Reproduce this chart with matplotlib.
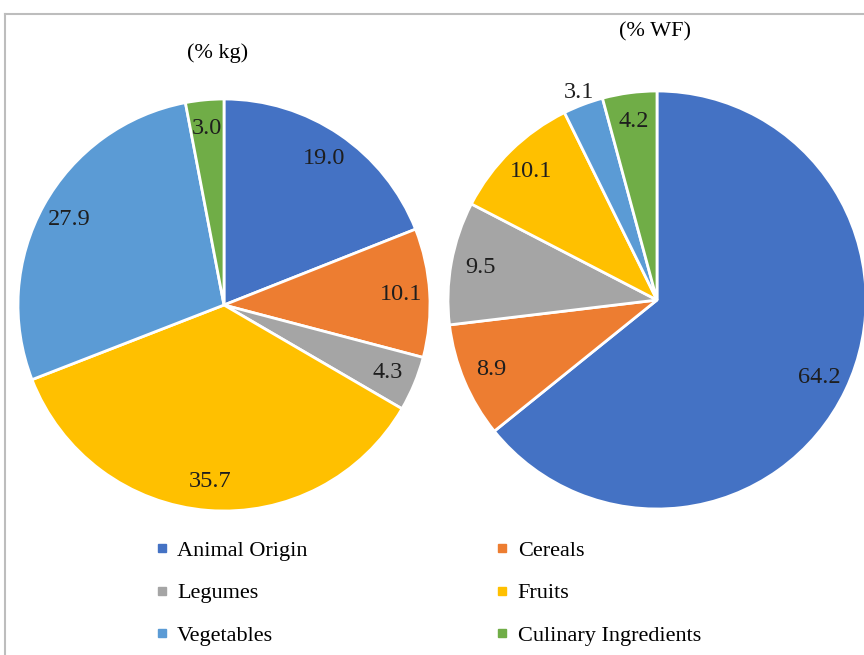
import matplotlib
matplotlib.use("Agg")
import matplotlib.pyplot as plt
from matplotlib.lines import Line2D

plt.rcParams['font.family'] = ['Liberation Serif', 'DejaVu Serif']

categories = ['Animal Origin', 'Cereals', 'Legumes', 'Fruits',
              'Vegetables', 'Culinary Ingredients']
colors = ['#4472C4', '#ED7D31', '#A5A5A5', '#FFC000', '#5B9BD5', '#70AD47']

share_kg = [19.0, 10.1, 4.3, 35.7, 27.9, 3.0]
share_wf = [64.2, 8.9, 9.5, 10.1, 3.1, 4.2]

W, H = 864, 655
fig = plt.figure(figsize=(W / 100, H / 100), dpi=100)


def px_axes(cx, cy, r):
    # axes box (figure fraction) for a pie of radius r centred at pixel (cx, cy)
    return [(cx - r) / W, (H - cy - r) / H, 2 * r / W, 2 * r / H]


def draw_pie(ax, values, pctdist):
    wedges, texts, autotexts = ax.pie(
        values, colors=colors, startangle=90, counterclock=False,
        autopct=lambda p: f'{p:.1f}', pctdistance=pctdist,
        wedgeprops=dict(edgecolor='white', linewidth=2),
        textprops=dict(fontsize=17.5, color='#1e1e1e'))
    ax.set_xlim(-1, 1)
    ax.set_ylim(-1, 1)
    ax.set_aspect('equal')
    return wedges, autotexts


ax1 = fig.add_axes(px_axes(224, 305, 206))
draw_pie(ax1, share_kg, 0.86)

ax2 = fig.add_axes(px_axes(657, 300, 209))
_, auto2 = draw_pie(ax2, share_wf, 0.86)
# the small vegetables slice gets its value just outside the rim
x, y = auto2[4].get_position()
auto2[4].set_position((x / 0.86 * 1.06, y / 0.86 * 1.06))

fig.text(218 / W, 1 - 53 / H, '(% kg)', ha='center', va='center', fontsize=16)
fig.text(655 / W, 1 - 32 / H, '(% WF)', ha='center', va='center', fontsize=16)

# legend laid out row by row: two columns, three rows
order = [0, 2, 4, 1, 3, 5]
handles = [Line2D([], [], marker='s', linestyle='none', markersize=6,
                  color=colors[i]) for i in order]
labels = [categories[i] for i in order]
fig.legend(handles, labels, ncol=2, frameon=False, fontsize=16,
           loc='upper left', bbox_to_anchor=(155 / W, 1 - 540 / H),
           handlelength=0.6, handletextpad=0.4, columnspacing=8.45,
           labelspacing=1.0, borderaxespad=0, borderpad=0)

# outer frame, only top and left edges fall inside the image
frame_color = '#BDBDBD'
fig.add_artist(Line2D([5 / W, 1.0], [1 - 14 / H, 1 - 14 / H],
                      color=frame_color, linewidth=1.5))
fig.add_artist(Line2D([5 / W, 5 / W], [0, 1 - 14 / H],
                      color=frame_color, linewidth=1.5))

fig.savefig('out.png', dpi=100, facecolor='white')
